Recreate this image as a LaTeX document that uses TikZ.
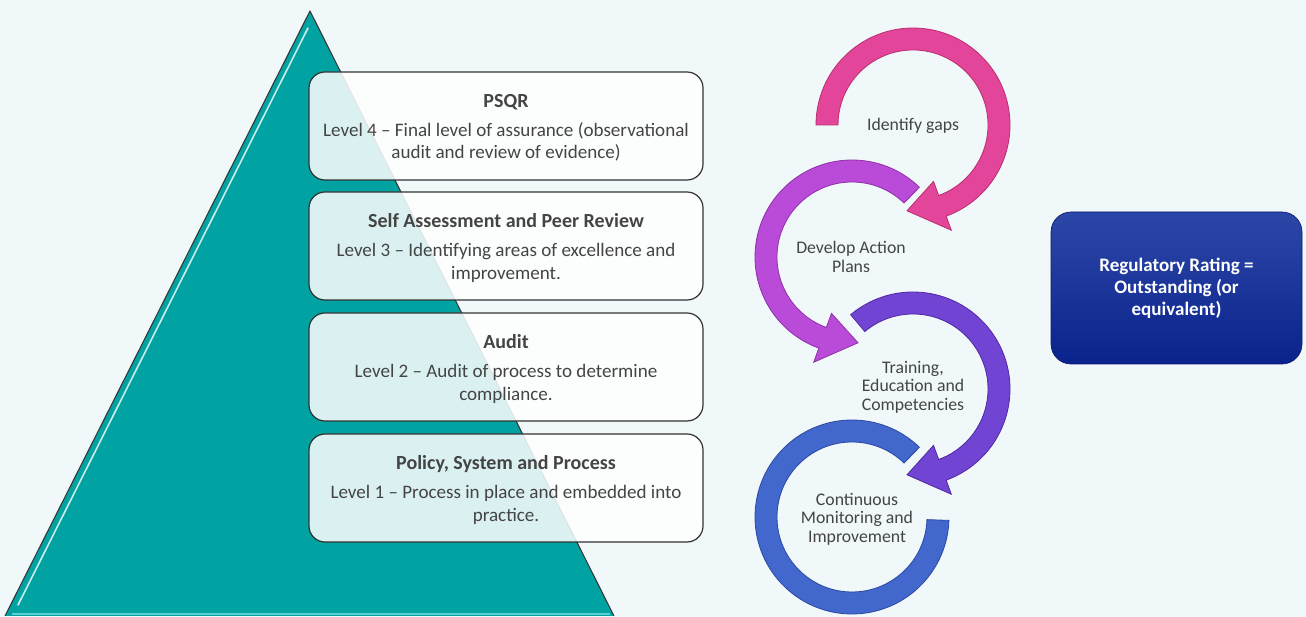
\documentclass[tikz,border=0pt]{standalone}
\usepackage{fontspec}
\setmainfont{Carlito}
\definecolor{bg}{HTML}{F0F8FA}
\definecolor{teal}{HTML}{00A2A2}
\definecolor{tealhi}{HTML}{5CD0D0}
\definecolor{edge}{HTML}{363636}
\definecolor{boxline}{HTML}{333333}
\definecolor{bodytext}{HTML}{444444}
\definecolor{ringpink}{HTML}{E2459A}
\definecolor{ringpinkd}{HTML}{B8306E}
\definecolor{ringpurple}{HTML}{BA4BD8}
\definecolor{ringpurpled}{HTML}{8E30A8}
\definecolor{ringviolet}{HTML}{7244D4}
\definecolor{ringvioletd}{HTML}{5028A4}
\definecolor{ringblue}{HTML}{4268CE}
\definecolor{ringblued}{HTML}{2C48A0}
\definecolor{navytop}{HTML}{2D47A8}
\definecolor{navybot}{HTML}{0A238C}
\newcommand{\leveltitle}[1]{{\fontsize{15}{16.8}\selectfont\bfseries #1}}
\begin{document}
\begin{tikzpicture}[x=0.75pt,y=0.75pt,
  levelbox/.style={draw=boxline, line width=0.9pt, fill=white, fill opacity=0.86,
    text opacity=1, rounded corners=12pt, minimum width=295.5pt, minimum height=81pt,
    align=center, text=bodytext, font=\fontsize{14.3}{16.8}\selectfont, inner sep=0pt},
  ringlabel/.style={align=center, text=bodytext, font=\fontsize{13.3}{13.9}\selectfont},
  ringbody/.style={line width=0.6pt, line join=miter},
  ratingbox/.style={rounded corners=15pt, top color=navytop, bottom color=navybot,
    draw=navybot!80!black, line width=0.5pt, minimum width=188.25pt, minimum height=114pt,
    align=center, text=white, font=\bfseries\fontsize{14.3}{16.5}\selectfont}]

% canvas
\fill[bg] (0,0) rectangle (1306,617);
\useasboundingbox (0,0) rectangle (1306,617);

% pyramid
\fill[teal] (310,606) -- (5,1) -- (614,1) -- cycle;
\draw[tealhi, line width=1.2pt] (12,3) -- (610,3);
\draw[white, line width=1.2pt, opacity=0.8, line cap=round] (308,589) -- (18,12);
\draw[edge, line width=0.8pt, line join=round] (5,1) -- (310,606) -- (614,1);

% level boxes (drawn as frames, text placed a touch lower)
\node[levelbox] (l4) at (506,491) {};
\node[levelbox] (l3) at (506,371) {};
\node[levelbox] (l2) at (506,250) {};
\node[levelbox] (l1) at (506,129) {};
\node[align=center, text=bodytext, font=\fontsize{14.3}{16.8}\selectfont] (t4) at ([yshift=-1.5pt]l4.center) {\leveltitle{PSQR}\\[5pt]Level 4 – Final level of assurance (observational\\audit and review of evidence)};
\node[align=center, text=bodytext, font=\fontsize{14.3}{16.8}\selectfont] (t3) at ([yshift=-1.5pt]l3.center) {\leveltitle{Self Assessment and Peer Review}\\[5pt]Level 3 – Identifying areas of excellence and\\improvement.};
\node[align=center, text=bodytext, font=\fontsize{14.3}{16.8}\selectfont] (t2) at ([yshift=-1.5pt]l2.center) {\leveltitle{Audit}\\[5pt]Level 2 – Audit of process to determine\\compliance.};
\node[align=center, text=bodytext, font=\fontsize{14.3}{16.8}\selectfont] (t1) at ([yshift=-1.5pt]l1.center) {\leveltitle{Policy, System and Process}\\[5pt]Level 1 – Process in place and embedded into\\practice.};

% cycle of ring arrows
\begin{scope}[shift={(913,492)}]
  \filldraw[ringbody, fill=ringpink, draw=ringpinkd]
    (180:97) arc[start angle=180, end angle=-70, radius=97] -- (-70:112) -- (-94:86)
    -- (-70:60) -- (-70:75) arc[start angle=-70, end angle=180, radius=75] -- cycle;
\end{scope}
\begin{scope}[shift={(852,360)}]
  \filldraw[ringbody, fill=ringpurple, draw=ringpurpled]
    (46:97) arc[start angle=46, end angle=250, radius=97] -- (250:112) -- (274:86)
    -- (250:60) -- (250:75) arc[start angle=250, end angle=46, radius=75] -- cycle;
\end{scope}
\begin{scope}[shift={(913,228)}]
  \filldraw[ringbody, fill=ringviolet, draw=ringvioletd]
    (130:97) arc[start angle=130, end angle=-70, radius=97] -- (-70:112) -- (-94:86)
    -- (-70:60) -- (-70:75) arc[start angle=-70, end angle=130, radius=75] -- cycle;
\end{scope}
\begin{scope}[shift={(852,100)}]
  \filldraw[ringbody, fill=ringblue, draw=ringblued]
    (46:97) arc[start angle=46, end angle=358, radius=97] -- (358:75)
    arc[start angle=358, end angle=46, radius=75] -- cycle;
\end{scope}

\node[ringlabel] (gaps) at (913,491) {Identify gaps};
\node[ringlabel] (plans) at (851,360) {Develop Action\\Plans};
\node[ringlabel] (train) at (913,230) {Training,\\Education and\\Competencies};
\node[ringlabel] (monitor) at (857,98) {Continuous\\Monitoring and\\Improvement};

% outcome
\node[ratingbox] (rating) at (1176.5,329) {Regulatory Rating =\\Outstanding (or\\equivalent)};
\end{tikzpicture}
\end{document}
